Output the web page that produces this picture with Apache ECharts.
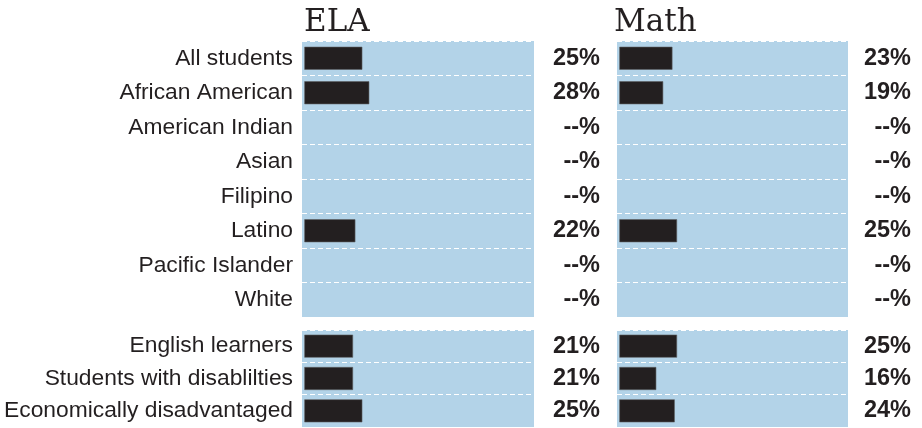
<!DOCTYPE html>
<html>
<head>
<meta charset="utf-8">
<script src="https://cdn.jsdelivr.net/npm/echarts@6/dist/echarts.min.js"></script>
<style>html,body{margin:0;padding:0;background:#fff;}#c{width:922px;height:428px;}</style>
</head>
<body>
<div id="c"></div>
<script>
const titles = ['ELA', 'Math'];
const groupsTop = ['All students', 'African American', 'American Indian', 'Asian', 'Filipino', 'Latino', 'Pacific Islander', 'White'];
const groupsBottom = ['English learners', 'Students with disablilties', 'Economically disadvantaged'];
const elaTop = [25, 28, null, null, null, 22, null, null];
const elaBottom = [21, 21, 25];
const mathTop = [23, 19, null, null, null, 25, null, null];
const mathBottom = [25, 16, 24];

const INK = '#231f20';
const PANEL = '#b3d3e8';
const fmt = v => (v == null ? '--%' : v + '%');

const panels = [
  { left: 302, top: 41, width: 232, height: 276, cats: groupsTop, vals: elaTop, showCat: true, valMargin: 66 },
  { left: 302, top: 330, width: 232, height: 97, cats: groupsBottom, vals: elaBottom, showCat: true, valMargin: 66 },
  { left: 617, top: 41, width: 231, height: 276, cats: groupsTop, vals: mathTop, showCat: false, valMargin: 63 },
  { left: 617, top: 330, width: 231, height: 97, cats: groupsBottom, vals: mathBottom, showCat: false, valMargin: 63 }
];

const grid = [], xAxis = [], yAxis = [], series = [];
panels.forEach((p, i) => {
  grid.push({ left: p.left, top: p.top, width: p.width, height: p.height, show: true, backgroundColor: PANEL, borderWidth: 0, containLabel: false });
  xAxis.push({ gridIndex: i, type: 'value', min: -1, max: 99, show: false });
  yAxis.push({
    gridIndex: i, type: 'category', data: p.cats, inverse: true,
    axisLine: { show: false }, axisTick: { show: false },
    splitLine: { show: true, lineStyle: { color: '#ffffff', type: [5, 3], width: 1 } },
    axisLabel: { show: p.showCat, margin: 9, color: INK, fontFamily: 'Liberation Sans, Arial, sans-serif', fontSize: 22.8 }
  });
  yAxis.push({
    gridIndex: i, type: 'category', data: p.vals.map(fmt), inverse: true, position: 'right',
    axisLine: { show: false }, axisTick: { show: false }, splitLine: { show: false },
    axisLabel: { show: true, margin: p.valMargin, align: 'right', color: INK, fontWeight: 'bold', fontFamily: 'Liberation Sans, Arial, sans-serif', fontSize: 23.5 }
  });
  series.push({
    type: 'bar', xAxisIndex: i, yAxisIndex: i * 2, data: p.vals, barWidth: 23,
    itemStyle: { color: INK, borderColor: '#5e5f62', borderWidth: 0.6 },
    silent: true, animation: false
  });
});

const chart = echarts.init(document.getElementById('c'), null, { renderer: 'canvas' });
chart.setOption({
  animation: false,
  title: [
    { text: titles[0], left: 304, top: 7, padding: 0, textStyle: { fontFamily: 'DejaVu Serif', fontWeight: 'normal', fontSize: 31, color: INK } },
    { text: titles[1], left: 614, top: 7, padding: 0, textStyle: { fontFamily: 'DejaVu Serif', fontWeight: 'normal', fontSize: 31, color: INK } }
  ],
  grid, xAxis, yAxis, series
});
</script>
</body>
</html>
